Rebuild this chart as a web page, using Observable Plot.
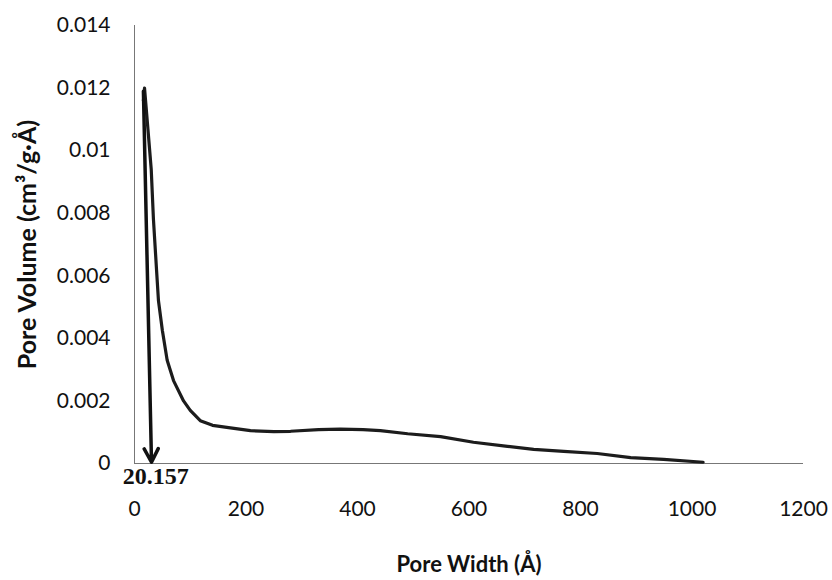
<!DOCTYPE html>
<html>
<head>
<meta charset="utf-8">
<script src="https://cdn.jsdelivr.net/npm/d3@7"></script>
<script src="https://cdn.jsdelivr.net/npm/@observablehq/plot@0.6"></script>
<style>
  html, body { margin: 0; padding: 0; background: #fff; }
  #chart svg { display: block; }
</style>
</head>
<body>
<div id="chart"></div>
<script>
// Pore width (Å) and pore volume (cm³/g·Å)
const poreWidth = [16, 18, 24, 30, 34, 39.5, 43, 50, 58.6, 70, 88, 100, 118, 140, 172, 208, 250, 280, 330, 369, 410, 441, 490, 549, 608, 669, 716, 770, 830, 890, 949, 1020];
const poreVolume = [0.0116, 0.0120, 0.0107, 0.0094, 0.0078, 0.0062, 0.0052, 0.00425, 0.0033, 0.00265, 0.0020, 0.0017, 0.00137, 0.00122, 0.00114, 0.00105, 0.00102, 0.00103, 0.00108, 0.00110, 0.00108, 0.00105, 0.00095, 0.00086, 0.00068, 0.00055, 0.00045, 0.00039, 0.00032, 0.00019, 0.00013, 0.00004];

const xTicks = [0, 200, 400, 600, 800, 1000, 1200];
const xTickLabels = ["0", "200", "400", "600", "800", "1000", "1200"];
const yTicks = [0, 0.002, 0.004, 0.006, 0.008, 0.01, 0.012, 0.014];
const yTickLabels = ["0", "0.002", "0.004", "0.006", "0.008", "0.01", "0.012", "0.014"];

// Annotation: arrow from the peak down to the axis, with its value
const arrowStart = {x: 16, y: 0.0119};
const arrowEnd = {x: 30.5, y: 0.00004};
const peakLabel = "20.157";
const peakLabelX = 20.157;

const xTitle = "Pore Width (Å)";
const yTitle = "Pore Volume (cm³/g·Å)";

const data = poreWidth.map((w, i) => ({w, v: poreVolume[i]}));

const sans = "Lato, 'Open Sans', sans-serif";

const chart = Plot.plot({
  width: 832,
  height: 580,
  marginLeft: 134,
  marginRight: 29,
  marginTop: 25,
  marginBottom: 117,
  style: {fontFamily: sans, background: "#fff", color: "#000"},
  x: {domain: [0, 1200]},
  y: {domain: [0, 0.014]},
  marks: [
    Plot.axisX({ticks: xTicks, tickFormat: d => xTickLabels[xTicks.indexOf(d)], tickSize: 0, tickPadding: 38, fontSize: 21, fill: "#111", label: null}),
    Plot.axisY({ticks: yTicks, tickFormat: d => yTickLabels[yTicks.indexOf(d)], tickSize: 0, tickPadding: 24, fontSize: 21, fill: "#111", label: null}),
    Plot.ruleY([0], {stroke: "#777", strokeWidth: 1}),
    Plot.ruleX([0], {stroke: "#777", strokeWidth: 1}),
    Plot.line(data, {x: "w", y: "v", stroke: "#1c1c1c", strokeWidth: 3.2, strokeLinejoin: "round"}),
    Plot.arrow([{x1: arrowStart.x, y1: arrowStart.y, x2: arrowEnd.x, y2: arrowEnd.y}], {
      x1: "x1", y1: "y1", x2: "x2", y2: "y2",
      stroke: "#111", strokeWidth: 3.5, headLength: 6.5, headAngle: 55
    }),
    Plot.text([peakLabel], {
      x: peakLabelX, y: 0, text: d => d, dx: 10, dy: 3, lineAnchor: "top",
      fontFamily: "'Liberation Serif', 'Times New Roman', serif", fontWeight: "bold", fontSize: 24, fill: "#111"
    }),
    Plot.text([xTitle], {
      frameAnchor: "bottom", text: d => d, dy: 101, lineAnchor: "middle", textAnchor: "middle",
      fontFamily: sans, fontWeight: "bold", fontSize: 22, fill: "#111"
    }),
    Plot.text([yTitle], {
      frameAnchor: "left", text: d => d, dx: -107, rotate: -90, lineAnchor: "middle", textAnchor: "middle",
      fontFamily: sans, fontWeight: "bold", fontSize: 25, fill: "#111"
    })
  ]
});
document.getElementById("chart").appendChild(chart);
</script>
</body>
</html>
